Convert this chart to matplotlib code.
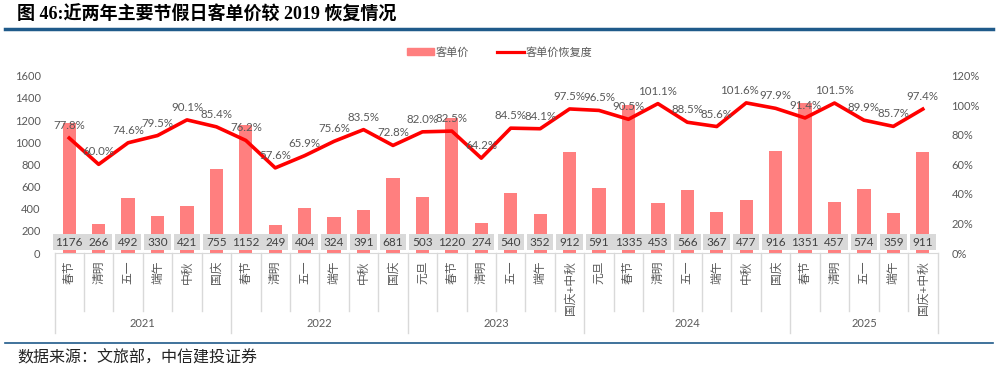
import matplotlib
matplotlib.use("Agg")
import matplotlib.pyplot as plt
from matplotlib.lines import Line2D
from matplotlib.patches import Patch

plt.rcParams['font.family'] = ['Lato', 'Noto Sans CJK SC', 'DejaVu Sans']

# data
years = ["2021", "2022", "2023", "2024", "2025"]
holidays = [
    ["春节", "清明", "五一", "端午", "中秋", "国庆"],
    ["春节", "清明", "五一", "端午", "中秋", "国庆"],
    ["元旦", "春节", "清明", "五一", "端午", "国庆+中秋"],
    ["元旦", "春节", "清明", "五一", "端午", "中秋", "国庆"],
    ["春节", "清明", "五一", "端午", "国庆+中秋"],
]
price = [1176, 266, 492, 330, 421, 755,
         1152, 249, 404, 324, 391, 681,
         503, 1220, 274, 540, 352, 912,
         591, 1335, 453, 566, 367, 477, 916,
         1351, 457, 574, 359, 911]
recovery = [77.8, 60.0, 74.6, 79.5, 90.1, 85.4,
            76.2, 57.6, 65.9, 75.6, 83.5, 72.8,
            82.0, 82.5, 64.2, 84.5, 84.1, 97.5,
            96.5, 90.5, 101.1, 88.5, 85.6, 101.6, 97.9,
            91.4, 101.5, 89.9, 85.7, 97.4]

labels = [h for grp in holidays for h in grp]
x = list(range(len(price)))
grey = '#595959'
axis_c = '#d9d9d9'

fig = plt.figure(figsize=(9.98, 3.74), dpi=100)
W, H = 998, 374
ax = fig.add_axes([54.5 / W, 1 - 253 / H, (937.5 - 54.5) / W, (253 - 75.7) / H])
ax2 = ax.twinx()

ax.bar(x, price, width=0.45, color='#ff7f7f', zorder=2)
ax2.plot(x, [r / 100 for r in recovery], color='#ff0000', lw=2.6, zorder=3)

ax.set_xlim(-0.5, len(price) - 0.5)
ax.set_ylim(0, 1600)
ax.set_yticks(range(0, 1601, 200))
ax2.set_ylim(0, 1.2)
ax2.set_yticks([i / 10 for i in range(0, 13, 2)])
ax2.set_yticklabels([f"{i * 10}%" for i in range(0, 13, 2)])

for a in (ax, ax2):
    for s in a.spines.values():
        s.set_visible(False)
    a.tick_params(axis='y', length=0, colors=grey, labelsize=8)
ax.tick_params(axis='y', pad=10)
ax2.tick_params(axis='y', pad=10)
ax.spines['bottom'].set_visible(True)
ax.spines['bottom'].set_color(axis_c)
ax.set_xticks([])

# value boxes
for xi, v in zip(x, price):
    ax.text(xi, 99, str(v), ha='center', va='center', fontsize=8.5, color='#404040', zorder=4,
            bbox=dict(boxstyle='square,pad=0.25', fc='#d9d9d9', ec='none'))

# recovery labels
for xi, r in zip(x, recovery):
    dx = -5 if r == 101.6 else 0
    ax2.annotate(f"{r:.1f}%", (xi, r / 100), xytext=(dx, 5), textcoords='offset points',
                 ha='center', va='bottom', fontsize=8.3, color=grey, zorder=5)

# category labels and separators
tr = ax.get_xaxis_transform()
for xi, lab in zip(x, labels):
    ax.text(xi, -0.045, lab, transform=tr, rotation=90, ha='center', va='top',
            fontsize=8.5, color=grey)
bounds = []
start = 0
for yr, grp in zip(years, holidays):
    end = start + len(grp)
    ax.text((start + end - 1) / 2, -0.40, yr, transform=tr, ha='center', va='center',
            fontsize=8, color=grey)
    bounds.append(end)
    start = end
for b in range(len(price) + 1):
    xb = b - 0.5
    depth = -0.45 if (b == 0 or b in bounds) else -0.325
    ax.plot([xb, xb], [0, depth], transform=tr, color=axis_c, lw=1, clip_on=False)

# legend
handles = [Patch(color='#ff7f7f'), Line2D([0], [0], color='#ff0000', lw=2.3)]
fig.legend(handles, ['客单价', '客单价恢复度'], loc='center', bbox_to_anchor=(500 / W, 1 - 52 / H),
           ncol=2, frameon=False, fontsize=8, labelcolor=grey, handlelength=2.4,
           handleheight=0.6, columnspacing=2.5, handletextpad=0.2)

# title and source
fig.text(17 / W, 1 - 15 / H, "图 46:近两年主要节假日客单价较 2019 恢复情况", ha='left', va='center',
         fontsize=13, fontweight='bold', family=['Liberation Serif', 'Noto Sans CJK SC'])
fig.add_artist(Line2D([5 / W, 993 / W], [1 - 29 / H] * 2, color='#1f5a8a', lw=2.5))
fig.add_artist(Line2D([5 / W, 993 / W], [1 - 343 / H] * 2, color='#1f5a8a', lw=1.2))
fig.text(17 / W, 1 - 358 / H, "数据来源：文旅部，中信建投证券", ha='left', va='center',
         fontsize=11.5, style='italic', color='#222222', family=['Noto Sans CJK SC'])

fig.savefig("out.png", dpi=100)
